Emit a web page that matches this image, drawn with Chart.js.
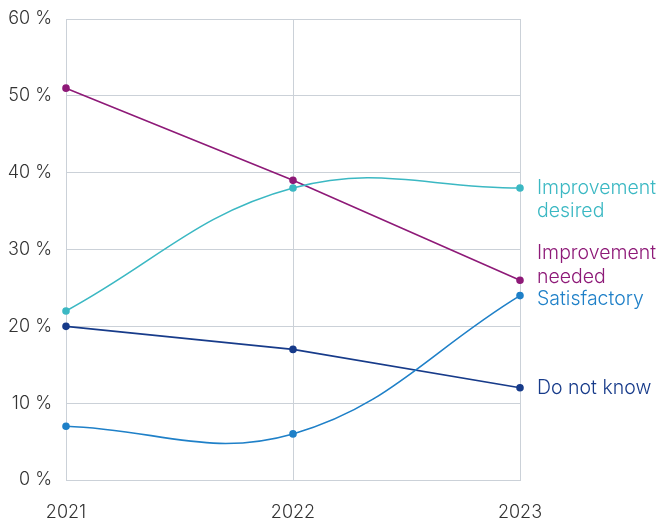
<!DOCTYPE html>
<html>
<head>
<meta charset="utf-8">
<script src="https://cdn.jsdelivr.net/npm/chart.js@4.4.1/dist/chart.umd.min.js"></script>
<style>
  html, body { margin: 0; padding: 0; background: #fff; }
  #wrap { width: 662px; height: 523px; }
</style>
</head>
<body>
<div id="wrap"><canvas id="chart"></canvas></div>
<script>
const years = ['2021', '2022', '2023'];
const improvementDesired = [22, 38, 38];
const improvementNeeded = [51, 39, 26];
const satisfactory = [7, 6, 24];
const doNotKnow = [20, 17, 12];
const yTicks = [0, 10, 20, 30, 40, 50, 60];

// label text, colour and a small vertical nudge so the end labels don't collide
const series = [
    { label: ['Improvement', 'desired'], data: improvementDesired, color: '#3bb8c3', tension: 0.4, nudge: 0 },
    { label: ['Improvement', 'needed'], data: improvementNeeded, color: '#8e1a78', tension: 0, nudge: -27 },
    { label: ['Satisfactory'], data: satisfactory, color: '#1f80c8', tension: 0.4, nudge: 4 },
    { label: ['Do not know'], data: doNotKnow, color: '#173b8a', tension: 0, nudge: 0 }
];

const FONT = 'Inter, "Open Sans", sans-serif';

const endLabels = {
    id: 'endLabels',
    afterDatasetsDraw(chart) {
        const ctx = chart.ctx;
        const x = chart.scales.x;
        const y = chart.scales.y;
        ctx.save();
        ctx.font = '300 19.5px ' + FONT;
        ctx.textAlign = 'left';
        ctx.textBaseline = 'middle';
        series.forEach(s => {
            const last = s.data[s.data.length - 1];
            const px = x.getPixelForValue(s.data.length - 1) + 17;
            const py = y.getPixelForValue(last) + s.nudge;
            ctx.fillStyle = s.color;
            s.label.forEach((line, i) => {
                ctx.fillText(line, px, py + i * 23.5);
            });
        });
        ctx.restore();
    }
};

new Chart(document.getElementById('chart'), {
    type: 'line',
    data: {
        labels: years,
        datasets: series.map(s => ({
            label: s.label.join(' '),
            data: s.data,
            borderColor: s.color,
            backgroundColor: s.color,
            borderWidth: 1.6,
            pointRadius: 3,
            pointHoverRadius: 3,
            tension: s.tension,
            fill: false
        }))
    },
    options: {
        responsive: true,
        maintainAspectRatio: false,
        animation: false,
        layout: { padding: { top: 0, right: 142, bottom: 0, left: 0 } },
        plugins: {
            legend: { display: false },
            tooltip: { enabled: false }
        },
        scales: {
            x: {
                offset: false,
                afterFit(axis) { axis.height = 43; },
                grid: { color: '#cbd1d8', lineWidth: 1, drawTicks: false },
                border: { color: '#cbd1d8' },
                ticks: { color: '#333', font: { family: FONT, size: 18, weight: 300 }, padding: 22, maxRotation: 0 }
            },
            y: {
                min: yTicks[0],
                max: yTicks[yTicks.length - 1],
                afterBuildTicks(axis) { axis.ticks = yTicks.map(v => ({ value: v })); },
                afterFit(axis) { axis.width = 66; axis.paddingTop = 19; axis.paddingBottom = 0; },
                grid: { color: '#cbd1d8', lineWidth: 1, drawTicks: false },
                border: { color: '#cbd1d8' },
                ticks: {
                    color: '#333',
                    font: { family: FONT, size: 18, weight: 300 },
                    padding: 14,
                    callback: v => v + ' %'
                }
            }
        }
    },
    plugins: [endLabels]
});
</script>
</body>
</html>
